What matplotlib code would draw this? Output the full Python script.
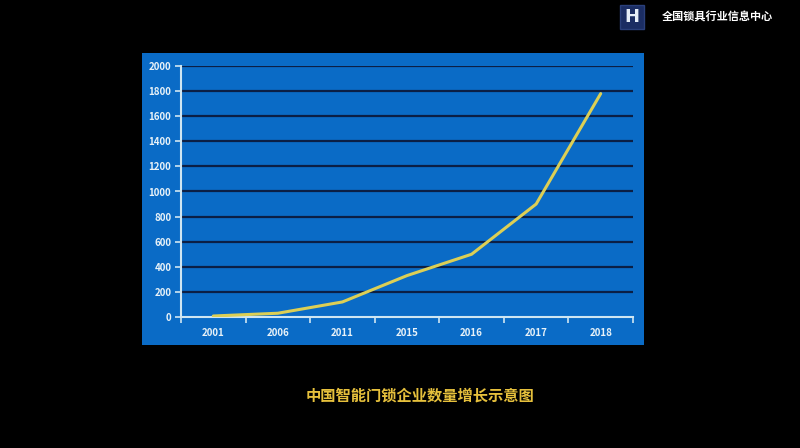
import matplotlib as mpl
from matplotlib import pyplot as plt
from matplotlib.patches import Rectangle

plt.rcParams['font.family'] = ['Noto Sans CJK SC', 'DejaVu Sans']

# data
years = ['2001', '2006', '2011', '2015', '2016', '2017', '2018']
counts = [8, 30, 120, 330, 500, 900, 1780]
yticks = [0, 200, 400, 600, 800, 1000, 1200, 1400, 1600, 1800, 2000]

title = '中国智能门锁企业数量增长示意图'
org = '全国锁具行业信息中心'

panel_blue = '#0a6bc6'
grid_col = '#0b1f45'
axis_col = '#cfe6f2'
line_col = '#dccf55'

fig = plt.figure(figsize=(8, 4.48), dpi=100)
fig.patch.set_facecolor('black')

# blue panel behind the chart
bg = fig.add_axes([142/800, 1-345/448, (644-142)/800, (345-53)/448], zorder=-1)
bg.set_facecolor(panel_blue)
bg.set_xticks([])
bg.set_yticks([])
for s in bg.spines.values():
	s.set_visible(False)

ax = fig.add_axes([181/800, 1-317/448, (633-181)/800, (317-66)/448], zorder=1)
ax.set_facecolor('none')

x = [i + 0.5 for i in range(len(years))]
ax.plot(x, counts, color=line_col, lw=2.2, solid_capstyle='round', zorder=3)

ax.set_xlim(0, len(years))
ax.set_ylim(0, 2000)
ax.set_yticks(yticks)
ax.set_yticklabels([str(v) for v in yticks])
ax.set_xticks(x)
ax.set_xticklabels(years)
ax.set_xticks(range(len(years) + 1), minor=True)

for v in yticks[1:]:
	ax.axhline(v, color=grid_col, lw=1.6, zorder=1)

for s in ['top', 'right']:
	ax.spines[s].set_visible(False)
for s in ['left', 'bottom']:
	ax.spines[s].set_color(axis_col)
	ax.spines[s].set_linewidth(1.5)

ax.tick_params(axis='y', colors=axis_col, length=4, width=1.2, labelsize=7, pad=3)
ax.tick_params(axis='x', which='major', length=0, colors=axis_col, labelsize=7, pad=8)
ax.tick_params(axis='x', which='minor', length=4, width=1.2, color=axis_col, direction='out')
for lab in ax.get_xticklabels() + ax.get_yticklabels():
	lab.set_fontweight('bold')
	lab.set_color('#e8f2f8')

# bottom caption
fig.text(420/800, 1-396/448, title, color='#e6c03c', fontsize=11, fontweight='bold',
	ha='center', va='center')

# logo and organisation name
fig.patches.append(Rectangle((620/800, 1-29/448), 24/800, 24/448,
	transform=fig.transFigure, facecolor='#1b2d63', edgecolor='#2a3f7a', zorder=2))
fig.text(632/800, 1-17/448, 'H', color='#e6eef8', fontsize=13, fontweight='bold',
	ha='center', va='center', family='DejaVu Sans', zorder=3)
fig.text(662/800, 1-17/448, org, color='white', fontsize=8, fontweight='bold',
	ha='left', va='center')

fig.savefig('out.png', dpi=100, facecolor=fig.get_facecolor())
